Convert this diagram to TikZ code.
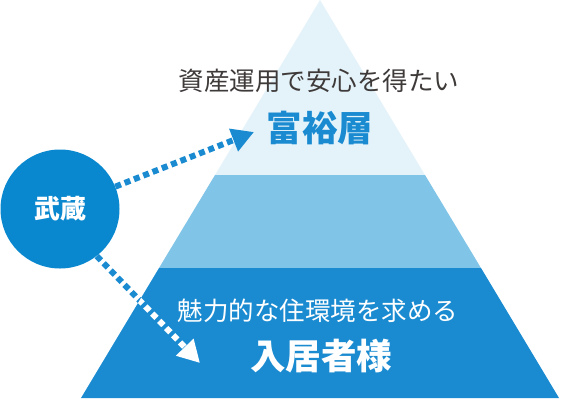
\documentclass[tikz,border=0pt]{standalone}
\usepackage{fontspec}
\setmainfont{Noto Sans CJK JP}
\usetikzlibrary{arrows.meta}
\definecolor{paleblue}{HTML}{E4F3FA}
\definecolor{midblue}{HTML}{80C4E7}
\definecolor{deepblue}{HTML}{1A8BD1}
\definecolor{circblue}{HTML}{0A88CF}
\definecolor{inkgray}{HTML}{3E3A39}
\begin{document}
\begin{tikzpicture}[x=1pt,y=-1pt]
		\tikzstyle{dotline}=[line width=6pt, dash pattern=on 6pt off 4pt, -{Triangle[length=22pt,width=23pt]}];
		\tikzstyle{sub}=[font=\fontsize{25.5}{25.5}\selectfont, inner sep=0pt];
		\tikzstyle{head}=[font=\fontsize{35.5}{35.5}\selectfont\bfseries, inner sep=0pt];

		\useasboundingbox (0,0) rectangle (562,400);

		% pyramid layers
		\fill[paleblue] (320,0) -- (215,175) -- (425,175) -- cycle;
		\fill[midblue] (215,175) -- (159,268) -- (481,268) -- (425,175) -- cycle;
		\fill[deepblue] (159,268) -- (81,398) -- (559,398) -- (481,268) -- cycle;

		\node[sub, text=inkgray] (wish) at (319,81) {資産運用で安心を得たい};
		\node[head, text=deepblue] (rich) at (320,128) {富裕層};
		\node[sub, text=white] (need) at (318,311) {魅力的な住環境を求める};
		\node[head, text=white] (resident) at (321,356) {入居者様};

		\node[circle, fill=circblue, minimum size=119pt, inner sep=0pt, text=white,
			font=\fontsize{26}{26}\selectfont\bfseries] (musashi) at (60,209) {武蔵};

		\coordinate (richtip) at (254,132);
		\coordinate (residenttip) at (200,363);

		\draw[dotline, deepblue] (musashi.22) to (richtip);
		\draw[dotline, deepblue] (musashi.-52) to (residenttip);
		\begin{scope}
			\clip (159,268) -- (81,398) -- (559,398) -- (481,268) -- cycle;
			\draw[dotline, white] (musashi.-52) to (residenttip);
		\end{scope}
\end{tikzpicture}
\end{document}
